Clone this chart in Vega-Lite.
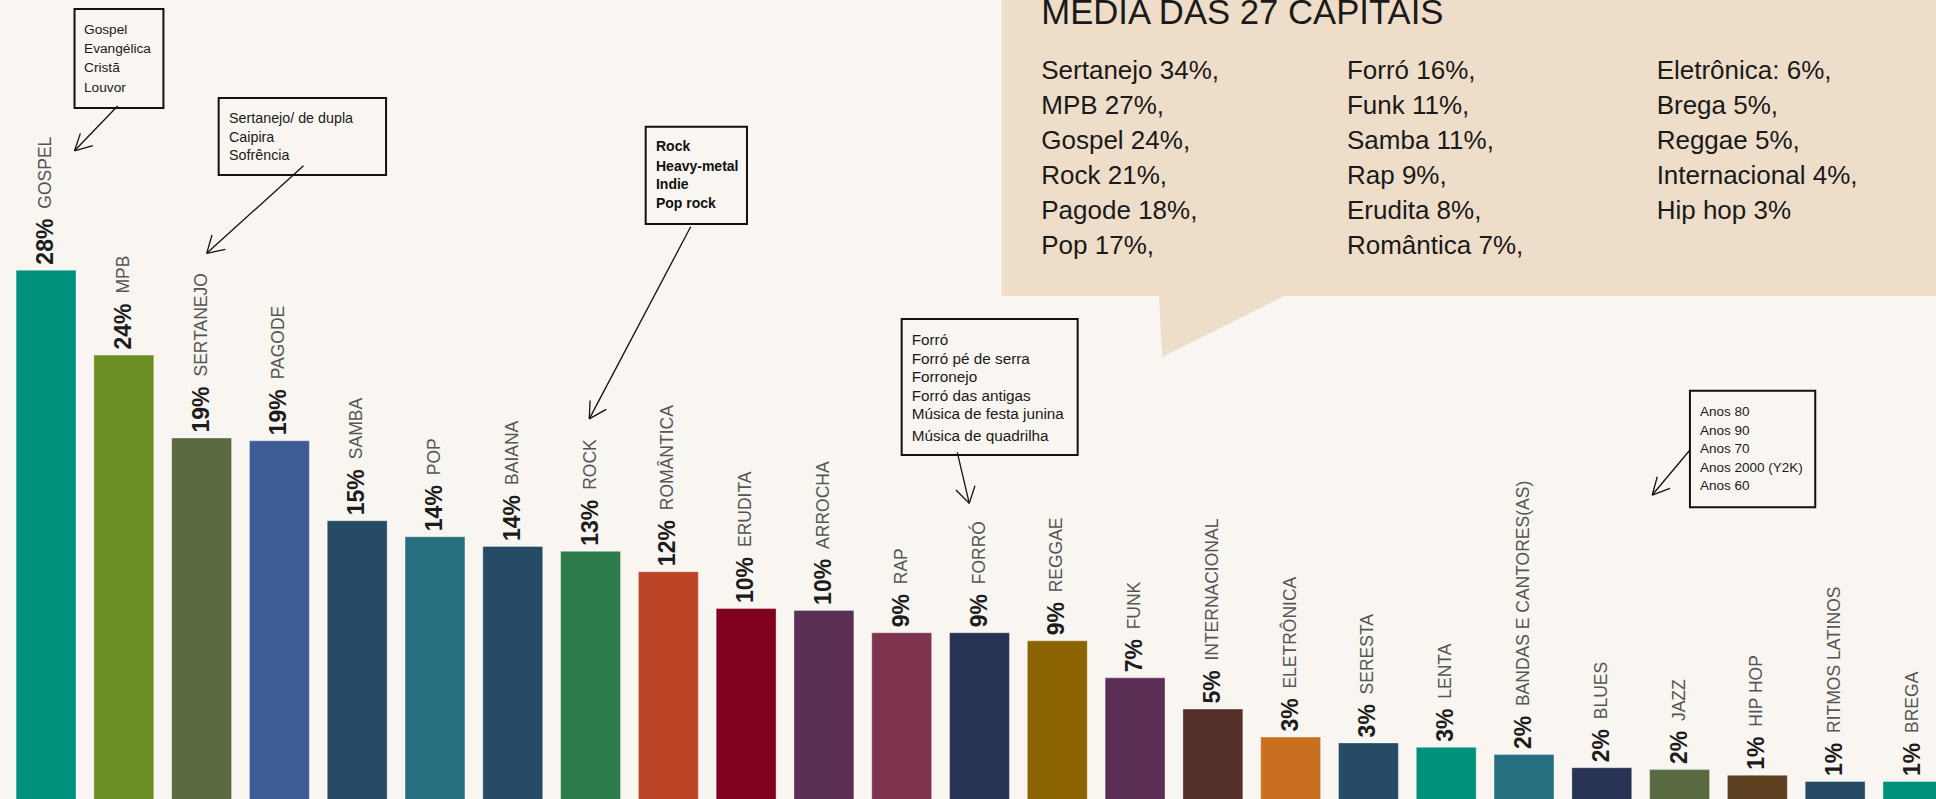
{
  "$schema": "https://vega.github.io/schema/vega-lite/v6.json",
  "width": 1959,
  "height": 801,
  "autosize": "none",
  "padding": 0,
  "background": "#F9F5F0",
  "config": {"view": {"stroke": null}},
  "datasets": {
    "genres": [
      {"genre": "GOSPEL", "pct": 0.2824},
      {"genre": "MPB", "pct": 0.2372},
      {"genre": "SERTANEJO", "pct": 0.1931},
      {"genre": "PAGODE", "pct": 0.1916},
      {"genre": "SAMBA", "pct": 0.1491},
      {"genre": "POP", "pct": 0.1406},
      {"genre": "BAIANA", "pct": 0.1354},
      {"genre": "ROCK", "pct": 0.1328},
      {"genre": "ROMÂNTICA", "pct": 0.1220},
      {"genre": "ERUDITA", "pct": 0.1024},
      {"genre": "ARROCHA", "pct": 0.1014},
      {"genre": "RAP", "pct": 0.0895},
      {"genre": "FORRÓ", "pct": 0.0895},
      {"genre": "REGGAE", "pct": 0.0852},
      {"genre": "FUNK", "pct": 0.0655},
      {"genre": "INTERNACIONAL", "pct": 0.0489},
      {"genre": "ELETRÔNICA", "pct": 0.0340},
      {"genre": "SERESTA", "pct": 0.0309},
      {"genre": "LENTA", "pct": 0.0286},
      {"genre": "BANDAS E CANTORES(AS)", "pct": 0.0247},
      {"genre": "BLUES", "pct": 0.0177},
      {"genre": "JAZZ", "pct": 0.0167},
      {"genre": "HIP HOP", "pct": 0.0137},
      {"genre": "RITMOS LATINOS", "pct": 0.0104},
      {"genre": "BREGA", "pct": 0.0104}
    ],
    "callout": [
      {"c": 12.285, "v": 0.26862, "v2": 0.43},
      {"c": 14.307, "v": 0.26862, "v2": 0.43},
      {"c": 14.3495, "v": 0.23617, "v2": 0.43},
      {"c": 15.9204, "v": 0.26862, "v2": 0.43},
      {"c": 24.592, "v": 0.26862, "v2": 0.43}
    ],
    "ctitle": [
      {"c": 12.794, "v": 0.4133, "t": "MÉDIA DAS 27 CAPITAIS"}
    ],
    "ctext": [
      {"c": 12.794, "v": 0.38431, "t": "Sertanejo 34%,"},
      {"c": 12.794, "v": 0.36569, "t": "MPB 27%,"},
      {"c": 12.794, "v": 0.34707, "t": "Gospel 24%,"},
      {"c": 12.794, "v": 0.32846, "t": "Rock 21%,"},
      {"c": 12.794, "v": 0.30984, "t": "Pagode 18%,"},
      {"c": 12.794, "v": 0.29122, "t": "Pop 17%,"},
      {"c": 16.7239, "v": 0.38431, "t": "Forró 16%,"},
      {"c": 16.7239, "v": 0.36569, "t": "Funk 11%,"},
      {"c": 16.7239, "v": 0.34707, "t": "Samba 11%,"},
      {"c": 16.7239, "v": 0.32846, "t": "Rap 9%,"},
      {"c": 16.7239, "v": 0.30984, "t": "Erudita 8%,"},
      {"c": 16.7239, "v": 0.29122, "t": "Romântica 7%,"},
      {"c": 20.705, "v": 0.38431, "t": "Eletrônica: 6%,"},
      {"c": 20.705, "v": 0.36569, "t": "Brega 5%,"},
      {"c": 20.705, "v": 0.34707, "t": "Reggae 5%,"},
      {"c": 20.705, "v": 0.32846, "t": "Internacional 4%,"},
      {"c": 20.705, "v": 0.30984, "t": "Hip hop 3%"}
    ],
    "boxes": [
      {"box": "gospel", "c1": 0.366, "c2": 1.509, "v1": 0.4213, "v2": 0.3686},
      {"box": "sertanejo", "c1": 2.219, "c2": 4.371, "v1": 0.37394, "v2": 0.33298},
      {"box": "rock", "c1": 7.7086, "c2": 9.0108, "v1": 0.35867, "v2": 0.30691},
      {"box": "forro", "c1": 10.9994, "c2": 13.262, "v1": 0.25638, "v2": 0.18404},
      {"box": "anos", "c1": 21.1332, "c2": 22.7439, "v1": 0.21824, "v2": 0.15622}
    ],
    "btext": [
      {"box": "gospel", "c": 0.488, "v": 0.41037, "t": "Gospel"},
      {"box": "gospel", "c": 0.488, "v": 0.4, "t": "Evangélica"},
      {"box": "gospel", "c": 0.488, "v": 0.38989, "t": "Cristã"},
      {"box": "gospel", "c": 0.488, "v": 0.37952, "t": "Louvor"},
      {"box": "sertanejo", "c": 2.352, "v": 0.36277, "t": "Sertanejo/ de dupla"},
      {"box": "sertanejo", "c": 2.352, "v": 0.35266, "t": "Caipira"},
      {"box": "sertanejo", "c": 2.352, "v": 0.34309, "t": "Sofrência"},
      {"box": "rock", "c": 7.841, "v": 0.34803, "t": "Rock"},
      {"box": "rock", "c": 7.841, "v": 0.33707, "t": "Heavy-metal"},
      {"box": "rock", "c": 7.841, "v": 0.32782, "t": "Indie"},
      {"box": "rock", "c": 7.841, "v": 0.31771, "t": "Pop rock"},
      {"box": "forro", "c": 11.128, "v": 0.24521, "t": "Forró"},
      {"box": "forro", "c": 11.128, "v": 0.23495, "t": "Forró pé de serra"},
      {"box": "forro", "c": 11.128, "v": 0.22553, "t": "Forronejo"},
      {"box": "forro", "c": 11.128, "v": 0.21527, "t": "Forró das antigas"},
      {"box": "forro", "c": 11.128, "v": 0.20569, "t": "Música de festa junina"},
      {"box": "forro", "c": 11.128, "v": 0.19415, "t": "Música de quadrilha"},
      {"box": "anos", "c": 21.2617, "v": 0.20676, "t": "Anos 80"},
      {"box": "anos", "c": 21.2617, "v": 0.19697, "t": "Anos 90"},
      {"box": "anos", "c": 21.2617, "v": 0.18707, "t": "Anos 70"},
      {"box": "anos", "c": 21.2617, "v": 0.17697, "t": "Anos 2000 (Y2K)"},
      {"box": "anos", "c": 21.2617, "v": 0.16739, "t": "Anos 60"}
    ],
    "arrows": [
      {"c1": 0.92, "v1": 0.36968, "c2": 0.366, "v2": 0.3459},
      {"c1": 0.366, "v1": 0.3459, "c2": 0.602, "v2": 0.3486},
      {"c1": 0.366, "v1": 0.3459, "c2": 0.4415, "v2": 0.35516},
      {"c1": 3.3095, "v1": 0.33793, "c2": 2.0652, "v2": 0.29133},
      {"c1": 2.0652, "v1": 0.29133, "c2": 2.3055, "v2": 0.29346},
      {"c1": 2.0652, "v1": 0.29133, "c2": 2.1333, "v2": 0.30106},
      {"c1": 8.287, "v1": 0.30548, "c2": 6.9835, "v2": 0.2033},
      {"c1": 6.9835, "v1": 0.2033, "c2": 7.2008, "v2": 0.20835},
      {"c1": 6.9835, "v1": 0.2033, "c2": 6.9938, "v2": 0.21303},
      {"c1": 11.7142, "v1": 0.18548, "c2": 11.8685, "v2": 0.15835},
      {"c1": 11.8685, "v1": 0.15835, "c2": 11.6975, "v2": 0.16543},
      {"c1": 11.8685, "v1": 0.15835, "c2": 11.9417, "v2": 0.16771},
      {"c1": 21.1332, "v1": 0.1867, "c2": 20.6485, "v2": 0.16277},
      {"c1": 20.6485, "v1": 0.16277, "c2": 20.876, "v2": 0.16633},
      {"c1": 20.6485, "v1": 0.16277, "c2": 20.7128, "v2": 0.1725}
    ]
  },
  "layer": [
    {
      "data": {"name": "genres"},
      "encoding": {
        "x": {"field": "genre", "type": "nominal", "sort": null, "axis": null,
              "scale": {"paddingInner": 0.23, "paddingOuter": 0.207}},
        "y": {"field": "pct", "type": "quantitative", "axis": null,
              "scale": {"domain": [0, 0.4261], "nice": false, "zero": true}}
      },
      "layer": [
        {
          "mark": {"type": "bar", "stroke": "#ffffff", "strokeWidth": 1, "strokeOpacity": 0.35},
          "encoding": {
            "color": {"field": "genre", "type": "nominal", "legend": null,
              "scale": {
                "domain": ["GOSPEL","MPB","SERTANEJO","PAGODE","SAMBA","POP","BAIANA","ROCK","ROMÂNTICA","ERUDITA","ARROCHA","RAP","FORRÓ","REGGAE","FUNK","INTERNACIONAL","ELETRÔNICA","SERESTA","LENTA","BANDAS E CANTORES(AS)","BLUES","JAZZ","HIP HOP","RITMOS LATINOS","BREGA"],
                "range": ["#00917C","#6B8E23","#596A40","#3D5C93","#264B66","#266F80","#264B66","#2E7B4B","#BB4526","#800020","#5B2E55","#7F3450","#283353","#8B6300","#5B2E55","#553029","#C87020","#264B66","#00917C","#266F80","#283353","#596A40","#5C3F1F","#264B66","#00917C"]
              }}
          }
        },
        {
          "mark": {"type": "text", "angle": 270, "align": "left", "baseline": "middle", "dx": 5.5,
                   "font": "Liberation Sans", "fontSize": 23, "fontWeight": "bold", "color": "#1c1c1c"},
          "encoding": {"text": {"field": "pct", "type": "quantitative", "format": ".0%"}}
        },
        {
          "transform": [{"filter": "datum.pct >= 0.095"}],
          "mark": {"type": "text", "angle": 270, "align": "left", "baseline": "middle", "dx": 61.5,
                   "font": "Liberation Sans", "fontSize": 17.5, "color": "#555555"},
          "encoding": {"text": {"field": "genre", "type": "nominal"}}
        },
        {
          "transform": [{"filter": "datum.pct < 0.095"}],
          "mark": {"type": "text", "angle": 270, "align": "left", "baseline": "middle", "dx": 48.5,
                   "font": "Liberation Sans", "fontSize": 17.5, "color": "#555555"},
          "encoding": {"text": {"field": "genre", "type": "nominal"}}
        }
      ]
    },
    {
      "layer": [
        {
          "data": {"name": "callout"},
          "mark": {"type": "area", "orient": "vertical", "color": "#EEDDC9", "interpolate": "linear"},
          "encoding": {
            "x": {"field": "c", "type": "quantitative", "axis": null, "scale": {"domain": [-0.592, 24.592], "nice": false, "zero": false}},
            "y": {"field": "v", "type": "quantitative", "axis": null, "scale": {"domain": [0, 0.4261], "nice": false}},
            "y2": {"field": "v2"}
          }
        },
        {
          "data": {"name": "ctitle"},
          "mark": {"type": "text", "align": "left", "baseline": "alphabetic", "font": "Liberation Sans", "fontSize": 34.7, "color": "#1a1a1a"},
          "encoding": {
            "x": {"field": "c", "type": "quantitative", "axis": null, "scale": {"domain": [-0.592, 24.592], "nice": false, "zero": false}},
            "y": {"field": "v", "type": "quantitative", "axis": null, "scale": {"domain": [0, 0.4261], "nice": false}},
            "text": {"field": "t"}
          }
        },
        {
          "data": {"name": "ctext"},
          "mark": {"type": "text", "align": "left", "baseline": "alphabetic", "font": "Liberation Sans", "fontSize": 26, "color": "#1a1a1a"},
          "encoding": {
            "x": {"field": "c", "type": "quantitative", "axis": null, "scale": {"domain": [-0.592, 24.592], "nice": false, "zero": false}},
            "y": {"field": "v", "type": "quantitative", "axis": null, "scale": {"domain": [0, 0.4261], "nice": false}},
            "text": {"field": "t"}
          }
        },
        {
          "data": {"name": "boxes"},
          "mark": {"type": "rect", "fill": "#F9F5F0", "stroke": "#111111", "strokeWidth": 2},
          "encoding": {
            "x": {"field": "c1", "type": "quantitative", "axis": null, "scale": {"domain": [-0.592, 24.592], "nice": false, "zero": false}},
            "x2": {"field": "c2"},
            "y": {"field": "v1", "type": "quantitative", "axis": null, "scale": {"domain": [0, 0.4261], "nice": false}},
            "y2": {"field": "v2"}
          }
        },
        {
          "data": {"name": "arrows"},
          "mark": {"type": "rule", "color": "#111111", "strokeWidth": 1.3},
          "encoding": {
            "x": {"field": "c1", "type": "quantitative", "axis": null, "scale": {"domain": [-0.592, 24.592], "nice": false, "zero": false}},
            "x2": {"field": "c2"},
            "y": {"field": "v1", "type": "quantitative", "axis": null, "scale": {"domain": [0, 0.4261], "nice": false}},
            "y2": {"field": "v2"}
          }
        },
        {
          "data": {"name": "btext"},
          "transform": [{"filter": "datum.box === 'gospel'"}],
          "mark": {"type": "text", "align": "left", "baseline": "middle", "font": "Liberation Sans", "fontSize": 13.7, "color": "#1a1a1a"},
          "encoding": {
            "x": {"field": "c", "type": "quantitative", "axis": null, "scale": {"domain": [-0.592, 24.592], "nice": false, "zero": false}},
            "y": {"field": "v", "type": "quantitative", "axis": null, "scale": {"domain": [0, 0.4261], "nice": false}},
            "text": {"field": "t"}
          }
        },
        {
          "data": {"name": "btext"},
          "transform": [{"filter": "datum.box === 'sertanejo'"}],
          "mark": {"type": "text", "align": "left", "baseline": "middle", "font": "Liberation Sans", "fontSize": 14.3, "color": "#1a1a1a"},
          "encoding": {
            "x": {"field": "c", "type": "quantitative", "axis": null, "scale": {"domain": [-0.592, 24.592], "nice": false, "zero": false}},
            "y": {"field": "v", "type": "quantitative", "axis": null, "scale": {"domain": [0, 0.4261], "nice": false}},
            "text": {"field": "t"}
          }
        },
        {
          "data": {"name": "btext"},
          "transform": [{"filter": "datum.box === 'rock'"}],
          "mark": {"type": "text", "align": "left", "baseline": "middle", "font": "Liberation Sans", "fontSize": 14, "fontWeight": "bold", "color": "#111111"},
          "encoding": {
            "x": {"field": "c", "type": "quantitative", "axis": null, "scale": {"domain": [-0.592, 24.592], "nice": false, "zero": false}},
            "y": {"field": "v", "type": "quantitative", "axis": null, "scale": {"domain": [0, 0.4261], "nice": false}},
            "text": {"field": "t"}
          }
        },
        {
          "data": {"name": "btext"},
          "transform": [{"filter": "datum.box === 'forro'"}],
          "mark": {"type": "text", "align": "left", "baseline": "middle", "font": "Liberation Sans", "fontSize": 15.3, "color": "#1a1a1a"},
          "encoding": {
            "x": {"field": "c", "type": "quantitative", "axis": null, "scale": {"domain": [-0.592, 24.592], "nice": false, "zero": false}},
            "y": {"field": "v", "type": "quantitative", "axis": null, "scale": {"domain": [0, 0.4261], "nice": false}},
            "text": {"field": "t"}
          }
        },
        {
          "data": {"name": "btext"},
          "transform": [{"filter": "datum.box === 'anos'"}],
          "mark": {"type": "text", "align": "left", "baseline": "middle", "font": "Liberation Sans", "fontSize": 13.5, "color": "#1a1a1a"},
          "encoding": {
            "x": {"field": "c", "type": "quantitative", "axis": null, "scale": {"domain": [-0.592, 24.592], "nice": false, "zero": false}},
            "y": {"field": "v", "type": "quantitative", "axis": null, "scale": {"domain": [0, 0.4261], "nice": false}},
            "text": {"field": "t"}
          }
        }
      ]
    }
  ],
  "resolve": {"scale": {"x": "independent"}}
}
